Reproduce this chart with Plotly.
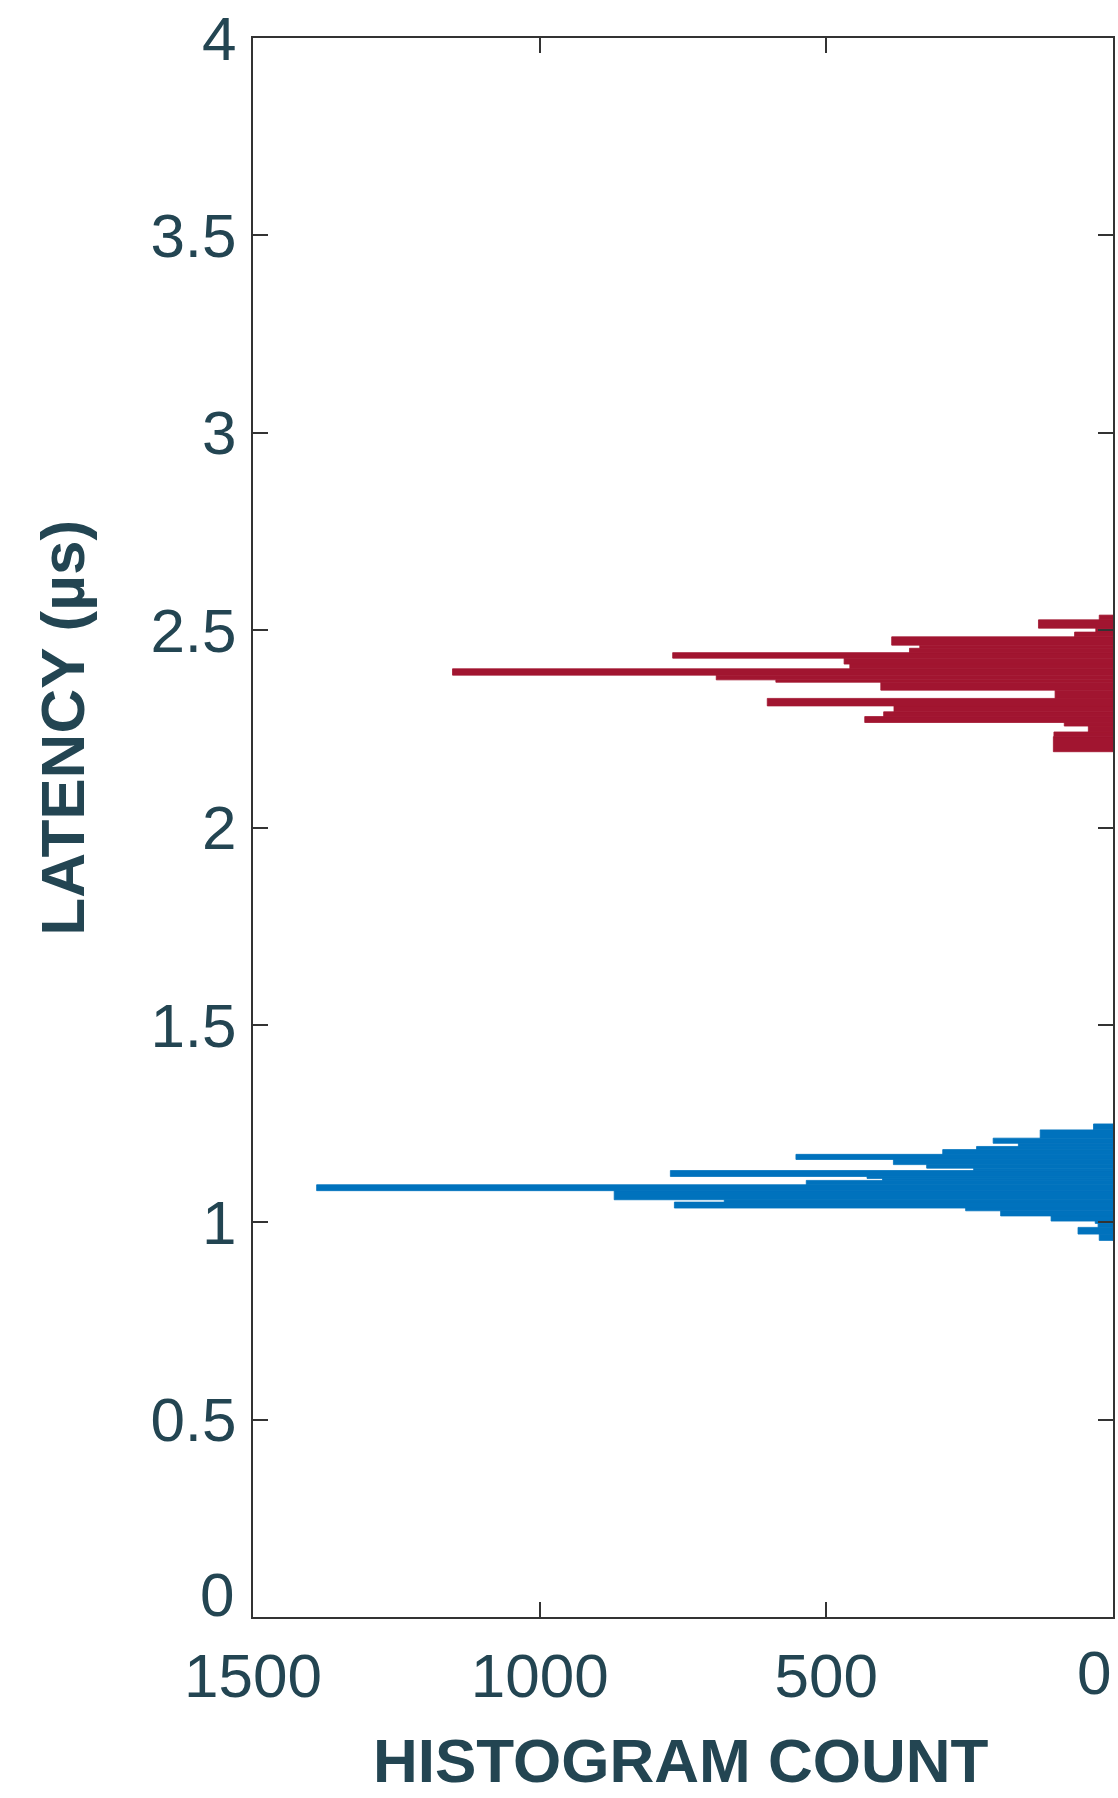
import numpy as np
import plotly.graph_objects as go

# ---- data ----
# Red distribution: bin edges (latency, µs) and histogram counts
red_edges = [2.192, 2.230, 2.242, 2.257, 2.266, 2.281, 2.293, 2.308, 2.327, 2.348,
             2.368, 2.374, 2.386, 2.402, 2.414, 2.429, 2.443, 2.454, 2.462, 2.483,
             2.495, 2.505, 2.526, 2.538]
red_counts = [104, 103, 43, 85, 433, 400, 382, 603, 101, 405, 588, 692, 1152, 459,
              469, 768, 355, 337, 386, 67, 30, 130, 24]

# Blue distribution
blue_edges = [0.954, 0.970, 0.987, 0.997, 1.003, 1.016, 1.029, 1.036, 1.051, 1.057,
              1.080, 1.095, 1.106, 1.111, 1.116, 1.131, 1.137, 1.146, 1.159, 1.172,
              1.184, 1.192, 1.200, 1.213, 1.234, 1.249]
blue_counts = [24, 61, 26, 31, 108, 196, 257, 765, 678, 870, 1389, 535, 402, 429,
               772, 243, 325, 383, 553, 297, 238, 165, 209, 127, 34]

y_ticks = [0, 0.5, 1, 1.5, 2, 2.5, 3, 3.5, 4]
y_ticklabels = ["", "0.5", "1", "1.5", "2", "2.5", "3", "3.5", "4"]
x_ticks = [0, 500, 1000, 1500]
x_ticklabels = ["", "500", "1000", "1500"]

TXT = "#234552"
AX = "#333333"
FONT = "Liberation Sans, Arial, Helvetica, sans-serif"
TICK_SIZE = 62


def hist_trace(edges, counts, color):
    e = np.asarray(edges, dtype=float)
    mids = (e[:-1] + e[1:]) / 2
    widths = np.diff(e)
    return go.Bar(
        x=counts, y=mids, width=widths, orientation="h",
        marker=dict(color=color, line=dict(width=0.8, color=color)),
        showlegend=False,
    )


fig = go.Figure()
fig.add_trace(hist_trace(red_edges, red_counts, "#A11530"))
fig.add_trace(hist_trace(blue_edges, blue_counts, "#0072BD"))

fig.update_layout(
    width=1118, height=1798,
    margin=dict(l=253, r=3, t=38, b=181),
    paper_bgcolor="white", plot_bgcolor="white",
    barmode="overlay",
    font=dict(family=FONT, color=TXT),
)

fig.update_xaxes(
    range=[1500, 0], tickvals=x_ticks, ticktext=x_ticklabels,
    ticks="inside", ticklen=15, tickwidth=2, tickcolor=AX,
    showline=True, linecolor=AX, linewidth=2, mirror="ticks",
    showgrid=False, zeroline=False,
    tickfont=dict(family=FONT, size=TICK_SIZE, color=TXT),
    ticklabelstandoff=4,
)
fig.update_yaxes(
    range=[0, 4], tickvals=y_ticks, ticktext=y_ticklabels,
    ticks="inside", ticklen=15, tickwidth=2, tickcolor=AX,
    showline=True, linecolor=AX, linewidth=2, mirror="ticks",
    showgrid=False, zeroline=False,
    tickfont=dict(family=FONT, size=TICK_SIZE, color=TXT),
    ticklabelstandoff=2,
)

annots = [
    # corner "0" labels, nudged inward as in the reference
    dict(text="0", xref="paper", yref="paper", x=(236 - 253) / 863, y=(1617 - 1594) / 1579,
         xanchor="right", yanchor="middle", showarrow=False,
         font=dict(family=FONT, size=TICK_SIZE, color=TXT)),
    dict(text="0", xref="paper", yref="paper", x=(1097 - 253) / 863, y=(1617 - 1673) / 1579,
         xanchor="center", yanchor="middle", showarrow=False,
         font=dict(family=FONT, size=TICK_SIZE, color=TXT)),
    # axis titles
    dict(text="HISTOGRAM COUNT", xref="paper", yref="paper", x=(682 - 253) / 863,
         y=(1617 - 1797) / 1579, xanchor="center", yanchor="bottom", showarrow=False,
         font=dict(family=FONT, size=62, color=TXT, weight="bold")),
    dict(text="LATENCY (µs)", xref="paper", yref="paper", x=(61 - 253) / 863,
         y=(1617 - 728) / 1579, xanchor="center", yanchor="middle", showarrow=False,
         textangle=-90,
         font=dict(family=FONT, size=62, color=TXT, weight="bold")),
]
fig.update_layout(annotations=annots)

fig.write_html("out.html")
